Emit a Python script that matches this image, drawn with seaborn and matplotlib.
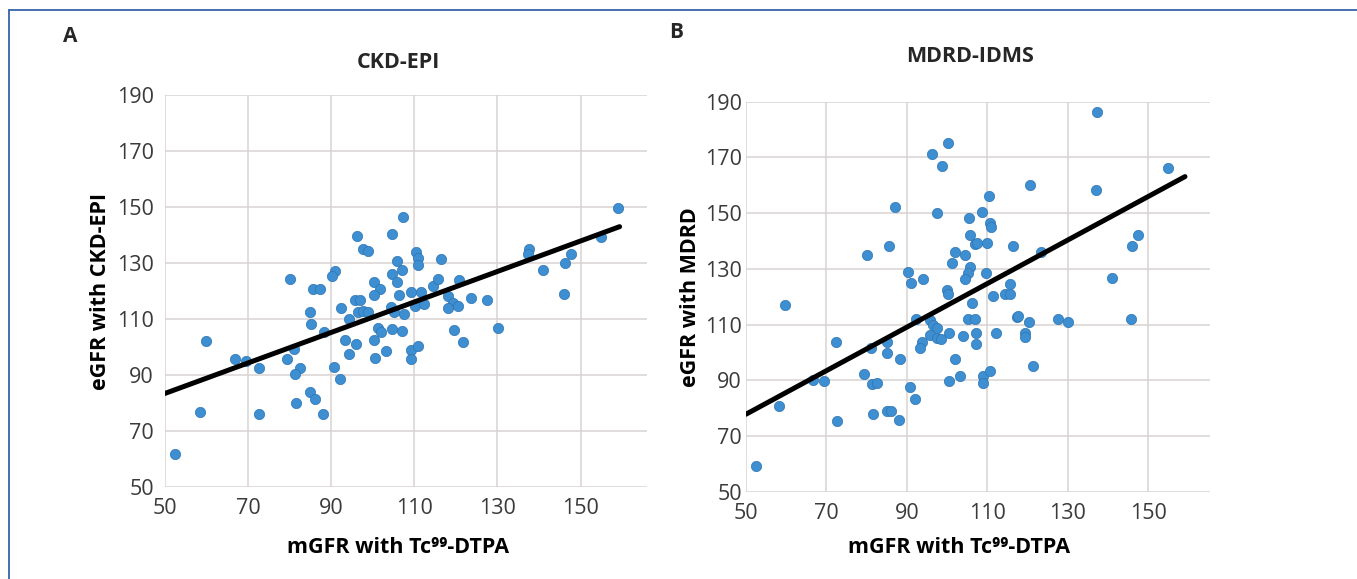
import numpy as np
import pandas as pd
import matplotlib
matplotlib.use("Agg")
import matplotlib.pyplot as plt
import seaborn as sns
from matplotlib.lines import Line2D

# ==========================================
# 1. DATA
# ==========================================
# Panel A - CKD-EPI
mgfr_a = [107.2, 96.2, 104.6, 97.6, 98.8, 105.8, 107.0, 104.6, 105.8, 91.0,
          90.2, 80.0, 100.4, 85.6, 87.4, 101.8, 95.8, 97.0, 92.4, 96.4,
          97.6, 98.8, 100.4, 104.3, 105.2, 107.6, 85.0, 85.2, 94.2, 88.2,
          101.2, 102.0, 104.6, 107.0, 59.8, 93.4, 96.0, 100.4, 81.0, 66.8,
          69.4, 79.4, 94.2, 100.6, 103.3, 72.6, 82.6, 81.4, 90.6, 92.2,
          85.0, 86.2, 81.6, 88.0, 58.4, 72.6, 52.4, 146.0, 109.2, 111.6,
          114.4, 106.4, 110.2, 112.4, 118.0, 119.4, 120.6, 118.0, 123.6, 127.6,
          119.6, 121.8, 130.2, 109.2, 111.0, 109.2, 159.0, 155.0, 137.6, 137.4,
          147.6, 146.2, 141.0, 110.4, 111.0, 111.0, 116.5, 115.8, 120.8]
egfr_a = [146.5, 139.8, 140.4, 134.9, 134.3, 130.7, 127.5, 126.1, 123.1, 127.3,
          125.5, 124.5, 123.1, 120.6, 120.6, 120.6, 117.0, 117.0, 113.8, 112.6,
          112.9, 112.4, 118.6, 114.4, 112.4, 112.0, 112.4, 108.2, 109.9, 105.5,
          106.7, 105.5, 106.4, 105.8, 102.3, 102.5, 101.3, 102.5, 99.5, 95.7,
          95.0, 95.7, 97.5, 96.2, 98.7, 92.4, 92.7, 90.6, 93.0, 88.7,
          84.0, 81.4, 80.2, 76.3, 76.7, 76.0, 61.7, 118.9, 119.8, 119.8,
          121.8, 118.6, 114.6, 115.4, 118.2, 115.8, 114.6, 113.8, 117.4, 116.8,
          106.1, 101.9, 106.9, 98.9, 100.4, 95.6, 149.5, 139.4, 135.2, 133.2,
          133.2, 130.1, 127.7, 133.8, 131.7, 129.3, 131.3, 124.5, 123.9]

# Panel B - MDRD-IDMS
mgfr_b = [100.2, 96.2, 98.7, 110.4, 87.1, 97.6, 108.7, 105.4, 110.6, 111.0,
          105.7, 106.9, 107.5, 110.0, 116.4, 85.5, 80.0, 101.9, 104.6, 101.3,
          90.3, 105.7, 105.3, 104.5, 109.6, 91.0, 94.1, 115.6, 99.9, 137.4,
          154.9, 120.6, 137.1, 147.5, 146.1, 123.3, 141.0, 59.7, 100.2, 111.5,
          114.4, 115.8, 106.2, 105.3, 106.9, 117.5, 92.2, 95.7, 96.5, 97.4,
          100.5, 104.0, 107.3, 107.3, 112.3, 95.7, 97.4, 98.6, 93.9, 93.2,
          85.0, 85.2, 81.2, 72.5, 88.3, 102.1, 66.7, 69.5, 79.3, 81.4,
          82.7, 90.7, 92.1, 100.4, 103.2, 109.0, 110.6, 109.0, 58.3, 72.7,
          81.5, 85.0, 86.0, 88.0, 52.5, 117.7, 120.4, 119.3, 119.3, 127.6,
          130.1, 145.8, 121.4]
egfr_b = [175.1, 171.1, 166.9, 156.2, 152.1, 150.2, 150.3, 148.1, 146.3, 144.9,
          142.2, 138.9, 139.2, 139.2, 138.3, 138.3, 135.0, 136.2, 135.0, 132.2,
          129.0, 130.8, 128.6, 126.4, 128.4, 125.0, 126.2, 124.5, 122.4, 186.2,
          166.3, 160.1, 158.3, 142.2, 138.2, 136.2, 126.8, 117.0, 121.0, 120.3,
          121.0, 121.0, 117.9, 111.9, 111.9, 112.8, 111.9, 111.6, 109.8, 108.7,
          107.1, 105.9, 107.1, 103.0, 107.1, 106.3, 105.1, 104.7, 103.9, 101.5,
          103.9, 99.9, 101.5, 103.9, 97.5, 97.6, 90.1, 89.9, 92.2, 88.6,
          88.9, 87.7, 83.3, 89.9, 91.6, 91.6, 93.4, 89.1, 80.8, 75.4,
          77.8, 79.0, 79.0, 75.7, 59.3, 113.1, 111.0, 106.9, 105.6, 111.9,
          111.0, 111.9, 95.2]

# linear trendlines (end points as drawn in the figure)
trend_x_a = [50.0, 159.4]
trend_y_a = [83.5, 143.0]
trend_x_b = [50.0, 159.2]
trend_y_b = [77.8, 163.1]

x_ticks = [50, 70, 90, 110, 130, 150]
y_ticks = [50, 70, 90, 110, 130, 150, 170, 190]

df_a = pd.DataFrame({"mgfr": mgfr_a, "egfr": egfr_a})
df_b = pd.DataFrame({"mgfr": mgfr_b, "egfr": egfr_b})

# ==========================================
# 2. FIGURE
# ==========================================
sns.set_theme(style="white")
plt.rcParams["font.family"] = ["Open Sans", "DejaVu Sans"]

fig = plt.figure(figsize=(13.57, 5.79), dpi=100)
ax_a = fig.add_axes([0.1216, 0.1584, 0.3552, 0.6776])
ax_b = fig.add_axes([0.5497, 0.1508, 0.3419, 0.6736])

dot_color = "#3d8fd1"
grid_color = "#d9d3d3"
text_color = "#3a3a3a"
label_size = 15.5

# axes, data, trend, x max, y label, y label x, x label x, x label y, y tick pad
panels = [
    (ax_a, df_a, trend_x_a, trend_y_a, 166.0, "eGFR with CKD-EPI", -0.112, 0.483, -0.127, 8),
    (ax_b, df_b, trend_x_b, trend_y_b, 165.4, "eGFR with MDRD", -0.097, 0.46, -0.116, 3),
]

for ax, df, tx, ty, xmax, ylab, ylab_x, xlab_x, xlab_y, ypad in panels:
    sns.scatterplot(data=df, x="mgfr", y="egfr", ax=ax, color=dot_color, s=55,
                    edgecolor="#2e74b0", linewidth=0.5, zorder=3)
    sns.lineplot(x=tx, y=ty, ax=ax, color="black", linewidth=3.6, zorder=4)

    ax.set_xlim(50, xmax)
    ax.set_ylim(50, 190)
    ax.set_xticks(x_ticks)
    ax.set_yticks(y_ticks)
    ax.grid(True, color=grid_color, linewidth=1.1)
    ax.set_axisbelow(True)
    for sp in ax.spines.values():
        sp.set_visible(False)
    ax.tick_params(length=0, labelsize=15.5, colors=text_color)
    ax.tick_params(axis="x", pad=8)
    ax.tick_params(axis="y", pad=ypad)

    ax.set_ylabel(ylab, fontsize=label_size, fontweight="bold", color="black")
    ax.yaxis.set_label_coords(ylab_x, 0.5)
    ax.set_xlabel("mGFR with Tc\u2079\u2079-DTPA", fontsize=label_size,
                  fontweight="bold", color="black")
    ax.xaxis.set_label_coords(xlab_x, xlab_y)

# titles and panel letters
fig.text(398 / 1357, 1 - 62 / 579, "CKD-EPI", ha="center", va="center",
         fontsize=label_size, fontweight="bold")
fig.text(970 / 1357, 1 - 56 / 579, "MDRD-IDMS", ha="center", va="center",
         fontsize=label_size, fontweight="bold")
fig.text(70 / 1357, 1 - 37 / 579, "A", ha="center", va="center",
         fontsize=15, fontweight="bold")
fig.text(676 / 1357, 1 - 33 / 579, "B", ha="center", va="center",
         fontsize=15, fontweight="bold")

# thin frame around the figure (top and left edges)
frame_color = "#3563a8"
fig.add_artist(Line2D([9 / 1357, 1.0], [1 - 10 / 579, 1 - 10 / 579],
                      transform=fig.transFigure, color=frame_color, linewidth=1.3))
fig.add_artist(Line2D([9 / 1357, 9 / 1357], [0.0, 1 - 10 / 579],
                      transform=fig.transFigure, color=frame_color, linewidth=1.3))

plt.savefig("out.png", dpi=100)
